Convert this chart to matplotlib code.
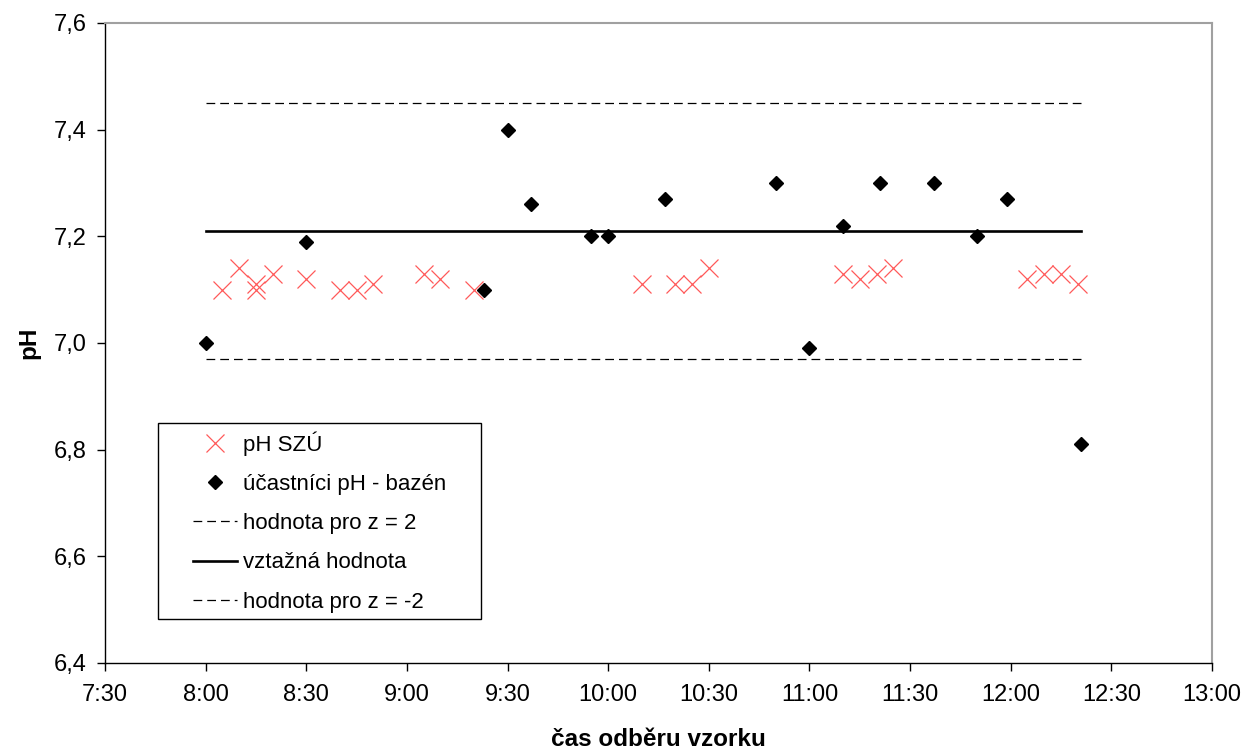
import numpy as np
import matplotlib.pyplot as plt
from matplotlib.patches import Rectangle

plt.rcParams['font.family'] = ['Liberation Sans', 'DejaVu Sans']

# pH SZU (reference lab) samples
szu_time = ["8:05", "8:10", "8:15", "8:15", "8:20", "8:30", "8:40", "8:45",
            "8:50", "9:05", "9:10", "9:20", "10:10", "10:20", "10:25", "10:30",
            "11:10", "11:15", "11:20", "11:25", "12:05", "12:10", "12:15", "12:20"]
szu_ph = [7.10, 7.14, 7.11, 7.10, 7.13, 7.12, 7.10, 7.10,
          7.11, 7.13, 7.12, 7.10, 7.11, 7.11, 7.11, 7.14,
          7.13, 7.12, 7.13, 7.14, 7.12, 7.13, 7.13, 7.11]

# participants
part_time = ["8:00", "8:30", "9:23", "9:30", "9:37", "9:55", "10:00", "10:17",
             "10:50", "11:00", "11:10", "11:21", "11:37", "11:50", "11:59", "12:21"]
part_ph = [7.00, 7.19, 7.10, 7.40, 7.26, 7.20, 7.20, 7.27,
           7.30, 6.99, 7.22, 7.30, 7.30, 7.20, 7.27, 6.81]

ref_value = 7.21
upper_z2 = 7.45
lower_z2 = 6.97

tick_labels = ["7:30", "8:00", "8:30", "9:00", "9:30", "10:00", "10:30",
               "11:00", "11:30", "12:00", "12:30", "13:00"]


def to_hours(s):
    h, m = s.split(":")
    return int(h) + int(m) / 60.0


xs = np.array([to_hours(t) for t in szu_time])
xp = np.array([to_hours(t) for t in part_time])
xticks = [to_hours(t) for t in tick_labels]

fig = plt.figure(figsize=(12.45, 7.51), dpi=100)
ax = fig.add_axes([0.0843, 0.1172, 0.8892, 0.8522])

ax.plot(xs, szu_ph, linestyle="none", marker="x", color="#ff5a5a",
        markersize=12.5, markeredgewidth=0.9, label="pH SZÚ")
ax.plot(xp, part_ph, linestyle="none", marker="D", color="black",
        markersize=7.5, label="účastníci pH - bazén")

xline = [xp.min(), xp.max()]
ax.plot(xline, [upper_z2] * 2, color="black", lw=0.9, dashes=(7, 4),
        label="hodnota pro z = 2")
ax.plot(xline, [ref_value] * 2, color="black", lw=1.9,
        label="vztažná hodnota")
ax.plot(xline, [lower_z2] * 2, color="black", lw=0.9, dashes=(7, 4),
        label="hodnota pro z = -2")

ax.set_xlim(xticks[0], xticks[-1])
ax.set_ylim(6.4, 7.6)
ax.set_xticks(xticks)
ax.set_xticklabels(tick_labels)
yt = np.arange(6.4, 7.61, 0.2)
ax.set_yticks(yt)
ax.set_yticklabels([f"{v:.1f}".replace(".", ",") for v in yt])
ax.tick_params(labelsize=17, direction="out", length=6, width=1, pad=7)
ax.tick_params(axis="x", pad=9)

for s in ["top", "right"]:
    ax.spines[s].set_color("#a0a0a0")
    ax.spines[s].set_linewidth(1.5)
for s in ["left", "bottom"]:
    ax.spines[s].set_color("black")
    ax.spines[s].set_linewidth(1)

ax.set_xlabel("čas odběru vzorku", fontsize=17.5, fontweight="bold", labelpad=16)
ax.set_ylabel("pH", fontsize=17.5, fontweight="bold", labelpad=10)

# legend box drawn separately so the side padding can be wider than the top
ax.add_patch(Rectangle((0.0479, 0.0688), 0.2918, 0.3062, transform=ax.transAxes,
                       facecolor="white", edgecolor="black", lw=1, zorder=4))
leg = ax.legend(loc="upper left", bbox_to_anchor=(0.0795, 0.362),
                borderaxespad=0, borderpad=0, fontsize=16, frameon=False,
                handlelength=2.0, handletextpad=0.25, labelspacing=0.82)
leg.set_zorder(5)

fig.savefig("out.png", dpi=100)
